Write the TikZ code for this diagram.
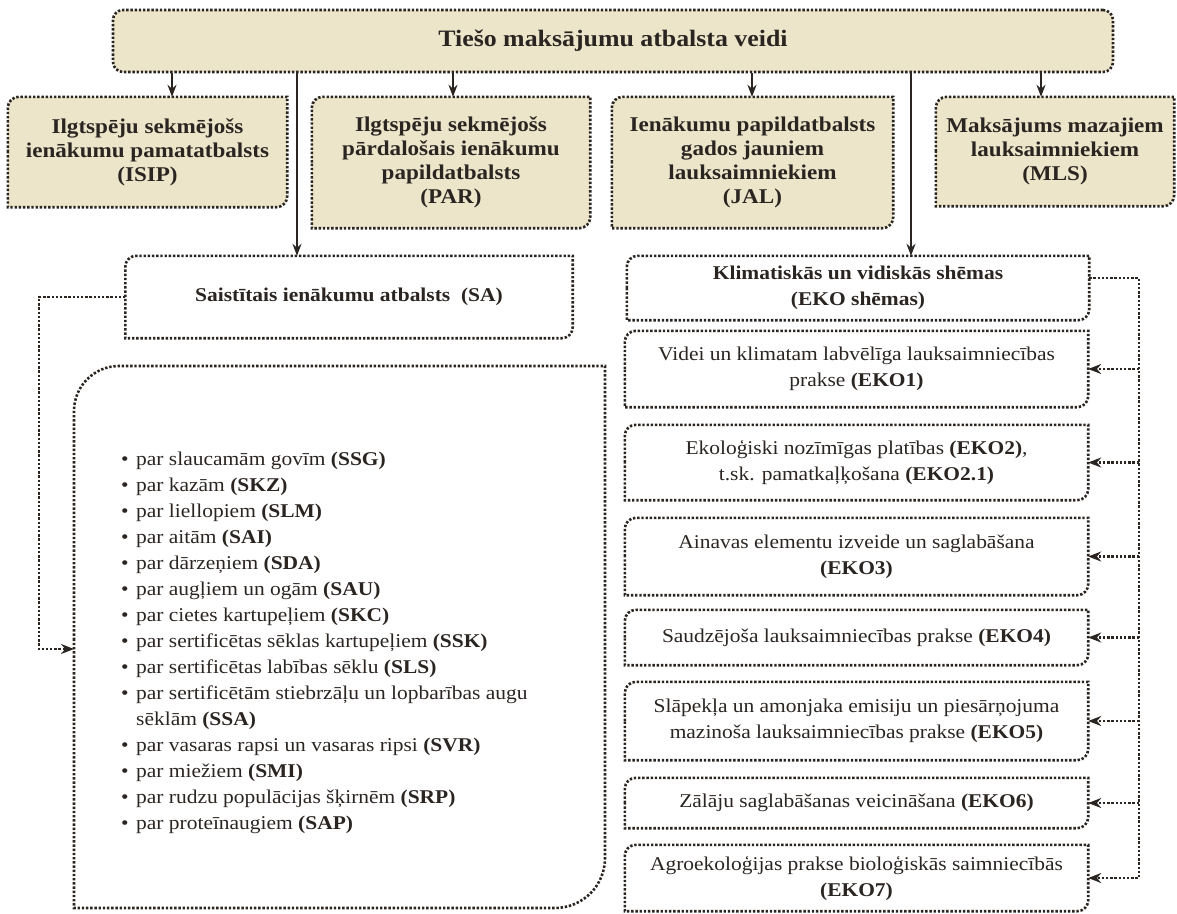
\documentclass[tikz,border=0pt]{standalone}
\usepackage{fontspec}
\setmainfont{Liberation Serif}[FakeStretch=1.1]
\usetikzlibrary{arrows.meta,backgrounds}
\definecolor{beige}{HTML}{ECE5CA}
\definecolor{ink}{HTML}{2B2522}
\newcommand\lstbul{\makebox[15pt][l]{\textbullet}}
\begin{document}
\begin{tikzpicture}[x=1pt,y=-1pt,
  every node/.style={text=ink},
  dotline/.style={draw=ink, line width=2.6pt, dash pattern=on 2.4pt off 1.8pt},
  topbox/.style={dotline, fill=beige, rounded corners=10pt, minimum width=1000pt, minimum height=62pt, inner sep=0pt, font=\fontsize{23.5}{28}\selectfont\bfseries},
  rowbox/.style={inner sep=0pt, align=center, font=\fontsize{21}{24}\selectfont\bfseries},
  ekobox/.style={inner sep=0pt, align=center, minimum width=463pt, font=\fontsize{19.5}{26}\selectfont},
  solidarrow/.style={draw=ink, line width=2.2pt, -{Stealth[length=12pt,width=9pt]}},
  dotarrow/.style={dotline, -{Stealth[length=13pt,width=10pt]}}
]
\useasboundingbox (0,0) rectangle (1177,913);

% top
\node[topbox] (top) at (613,41) {Tiešo maksājumu atbalsta veidi};

% second row
\node[rowbox, minimum width=279pt, minimum height=110pt] (isip) at (147.5,152) {Ilgtspēju sekmējošs\\ienākumu pamatatbalsts\\(ISIP)};
\node[rowbox, minimum width=278pt, minimum height=131pt] (par) at (451,162.5) {Ilgtspēju sekmējošs\\pārdalošais ienākumu\\papildatbalsts\\(PAR)};
\node[rowbox, minimum width=281pt, minimum height=131pt] (jal) at (752.5,162.5) {Ienākumu papildatbalsts\\gados jauniem\\lauksaimniekiem\\(JAL)};
\node[rowbox, minimum width=238pt, minimum height=109pt] (mls) at (1055,151.5) {Maksājums mazajiem\\lauksaimniekiem\\(MLS)};

% SA
\node[rowbox, font=\fontsize{19.5}{24}\selectfont\bfseries, minimum width=447pt, minimum height=82pt] (sa) at (349,297) {Saistītais ienākumu atbalsts\ \ (SA)};

% EKO column
\node[ekobox, minimum width=462pt, minimum height=64pt, font=\fontsize{19.5}{26}\selectfont\bfseries] (eko) at (858,288) {Klimatiskās un vidiskās shēmas\\(EKO shēmas)};
\node[ekobox, minimum height=76pt] (e1) at (856.5,369) {Videi un klimatam labvēlīga lauksaimniecības\\prakse \textbf{(EKO1)}};
\node[ekobox, minimum height=75pt] (e2) at (856.5,462.5) {Ekoloģiski nozīmīgas platības \textbf{(EKO2)},\\t.sk. pamatkaļķošana \textbf{(EKO2.1)}};
\node[ekobox, minimum height=77pt] (e3) at (856.5,556.5) {Ainavas elementu izveide un saglabāšana\\\textbf{(EKO3)}};
\node[ekobox, minimum height=55pt] (e4) at (856.5,637.5) {Saudzējoša lauksaimniecības prakse \textbf{(EKO4)}};
\node[ekobox, minimum height=78pt] (e5) at (856.5,721) {Slāpekļa un amonjaka emisiju un piesārņojuma\\mazinoša lauksaimniecības prakse \textbf{(EKO5)}};
\node[ekobox, minimum height=50pt] (e6) at (856.5,803) {Zālāju saglabāšanas veicināšana \textbf{(EKO6)}};
\node[ekobox, minimum height=66pt] (e7) at (856.5,878) {Agroekoloģijas prakse bioloģiskās saimniecībās\\\textbf{(EKO7)}};

% box outlines (rounded top-left and bottom-right)
\begin{scope}[on background layer]
\foreach \n/\c in {isip/beige,par/beige,jal/beige,mls/beige,sa/white,eko/white,e1/white,e2/white,e3/white,e4/white,e5/white,e6/white,e7/white}
  \draw[dotline, fill=\c] (\n.west) [rounded corners=11pt] -- (\n.north west) -- (\n.north) [sharp corners] -- (\n.north east) -- (\n.east) [rounded corners=11pt] -- (\n.south east) -- (\n.south) [sharp corners] -- (\n.south west) -- cycle;
\end{scope}

% list box
\draw[dotline] (74,640) [rounded corners=45pt] -- (74,366) -- (340,366) [sharp corners] -- (605,366) -- (605,640) [rounded corners=50pt] -- (605,908) -- (340,908) [sharp corners] -- (74,908) -- cycle;
\node[anchor=north west, align=left, inner sep=0pt, font=\fontsize{19.5}{26}\selectfont] (list) at (121,452) {%
\lstbul par slaucamām govīm \textbf{(SSG)}\\
\lstbul par kazām \textbf{(SKZ)}\\
\lstbul par liellopiem \textbf{(SLM)}\\
\lstbul par aitām \textbf{(SAI)}\\
\lstbul par dārzeņiem \textbf{(SDA)}\\
\lstbul par augļiem un ogām \textbf{(SAU)}\\
\lstbul par cietes kartupeļiem \textbf{(SKC)}\\
\lstbul par sertificētas sēklas kartupeļiem \textbf{(SSK)}\\
\lstbul par sertificētas labības sēklu \textbf{(SLS)}\\
\lstbul par sertificētām stiebrzāļu un lopbarības augu\\
\hspace*{15pt}sēklām \textbf{(SSA)}\\
\lstbul par vasaras rapsi un vasaras ripsi \textbf{(SVR)}\\
\lstbul par miežiem \textbf{(SMI)}\\
\lstbul par rudzu populācijas šķirnēm \textbf{(SRP)}\\
\lstbul par proteīnaugiem \textbf{(SAP)}};

% connector x positions
\coordinate (ax1) at (172,0);
\coordinate (ax2) at (453,0);
\coordinate (ax3) at (752,0);
\coordinate (ax4) at (1041,0);
\coordinate (lx1) at (297,0);
\coordinate (lx2) at (911,0);
\coordinate (lx) at (39,0);
\coordinate (listin) at (74,649);
\coordinate (rx) at (1139,0);

\draw[solidarrow] (top.south -| ax1) -- (isip.north -| ax1);
\draw[solidarrow] (top.south -| ax2) -- (par.north -| ax2);
\draw[solidarrow] (top.south -| ax3) -- (jal.north -| ax3);
\draw[solidarrow] (top.south -| ax4) -- (mls.north -| ax4);
\draw[solidarrow] (top.south -| lx1) -- (sa.north -| lx1);
\draw[solidarrow] (top.south -| lx2) -- (eko.north -| lx2);

\draw[dotarrow] (sa.west) -| (lx |- listin) -- (listin);
\draw[dotarrow] ([yshift=10pt]eko.east) -| (rx |- e7.east) -- (e7.east);
\foreach \e in {e1,e2,e3,e4,e5,e6}
  \draw[dotarrow] (rx |- \e.east) -- (\e.east);
\end{tikzpicture}
\end{document}
